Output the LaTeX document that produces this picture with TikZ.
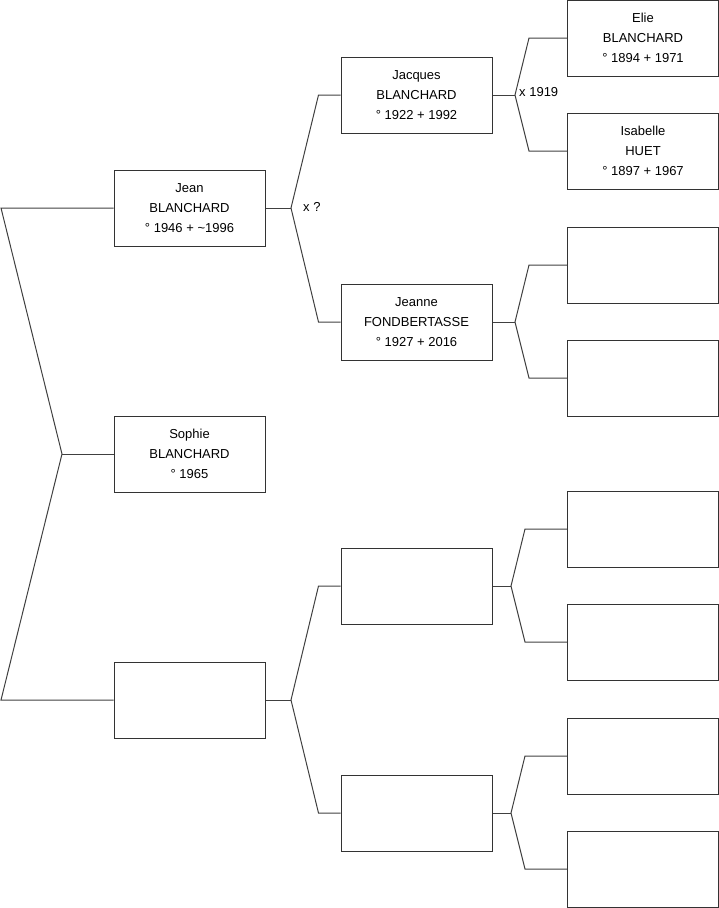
\documentclass[tikz,border=0pt]{standalone}
\usepackage{fontspec}
\setmainfont{Liberation Sans}
\begin{document}
\begin{tikzpicture}[x=1pt,y=-1pt,
  person/.style={draw=black!80,line width=1pt,rectangle,minimum width=151pt,minimum height=76pt,inner sep=0pt,align=center,font=\fontsize{13}{20}\selectfont,fill=white},
  link/.style={draw=black!75,line width=1pt},
  lbl/.style={font=\fontsize{13}{15}\selectfont,inner sep=0pt}]
\useasboundingbox (0,0) rectangle (719,908);
% generation 1
\node[person] (jean) at (189.5,208) {Jean\\BLANCHARD\\° 1946 + \textasciitilde1996};
\node[person] (sophie) at (189.5,454) {Sophie\\BLANCHARD\\° 1965};
\node[person] (p3) at (189.5,700) {};
% generation 2
\node[person] (jacques) at (416.5,95) {Jacques\\BLANCHARD\\° 1922 + 1992};
\node[person] (jeanne) at (416.5,322) {Jeanne\\FONDBERTASSE\\° 1927 + 2016};
\node[person] (p6) at (416.5,586) {};
\node[person] (p7) at (416.5,813) {};
% generation 3
\node[person] (elie) at (643,38) {Elie\\BLANCHARD\\° 1894 + 1971};
\node[person] (isabelle) at (643,151) {Isabelle\\HUET\\° 1897 + 1967};
\node[person] (p10) at (643,265) {};
\node[person] (p11) at (643,378) {};
\node[person] (p12) at (643,529) {};
\node[person] (p13) at (643,642) {};
\node[person] (p14) at (643,756) {};
\node[person] (p15) at (643,869) {};
% left bracket
\coordinate (la) at (1,208);
\coordinate (ls) at (62,454);
\coordinate (lb) at (1,700);
\draw[link] (jean.west) -- (la) -- (ls) -- (lb) -- (p3.west);
\draw[link] (ls) -- (sophie.west);
% forks
\coordinate (f1) at (291,208);
\coordinate (f2) at (291,700);
\coordinate (f3) at (515,95);
\coordinate (f4) at (515,322);
\coordinate (f5) at (511,586);
\coordinate (f6) at (511,813);
\draw[link] (jean.east) -- (f1);
\draw[link] (jacques.west) -- ++(-22,0) -- (f1) -- ([xshift=-22pt]jeanne.west) -- (jeanne.west);
\draw[link] (p3.east) -- (f2);
\draw[link] (p6.west) -- ++(-22,0) -- (f2) -- ([xshift=-22pt]p7.west) -- (p7.west);
\draw[link] (jacques.east) -- (f3);
\draw[link] (elie.west) -- ++(-38,0) -- (f3) -- ([xshift=-38pt]isabelle.west) -- (isabelle.west);
\draw[link] (jeanne.east) -- (f4);
\draw[link] (p10.west) -- ++(-38,0) -- (f4) -- ([xshift=-38pt]p11.west) -- (p11.west);
\draw[link] (p6.east) -- (f5);
\draw[link] (p12.west) -- ++(-42,0) -- (f5) -- ([xshift=-42pt]p13.west) -- (p13.west);
\draw[link] (p7.east) -- (f6);
\draw[link] (p14.west) -- ++(-42,0) -- (f6) -- ([xshift=-42pt]p15.west) -- (p15.west);
% marriage labels
\node[lbl,anchor=west] (m1) at (303,207) {x ?};
\node[lbl,anchor=west] (m2) at (519,92) {x 1919};
\end{tikzpicture}
\end{document}
